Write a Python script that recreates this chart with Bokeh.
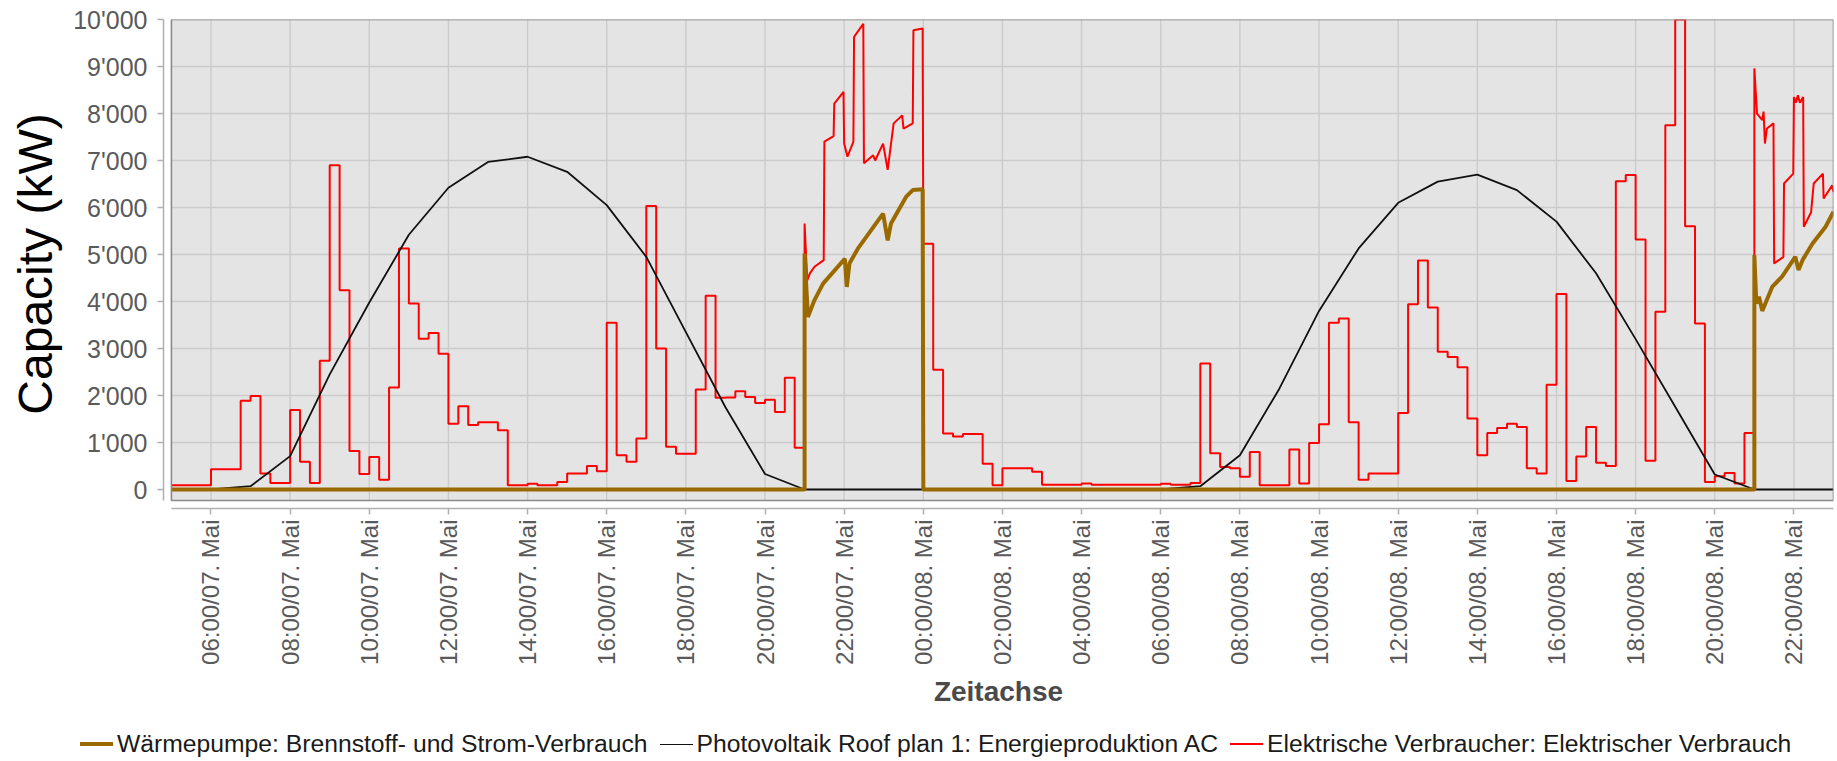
import math
import pandas as pd
from bokeh.plotting import figure
from bokeh.layouts import column
from bokeh.models import Range1d, FixedTicker, Div
from bokeh.embed import file_html
from bokeh.resources import INLINE

START = pd.Timestamp("2021-05-07 05:00")
END = pd.Timestamp("2021-05-08 23:00")
HP1_START = pd.Timestamp("2021-05-07 21:00")
DAY8 = pd.Timestamp("2021-05-08 00:00")
HP2_START = pd.Timestamp("2021-05-08 21:00")
Q = pd.Timedelta(minutes=15)

# ---- Elektrische Verbraucher (kW), 15-min values ----
red_day7 = [  # 05:00 .. 21:00, 07. Mai
    90, 90, 90, 90,
    430, 430, 430, 1890,
    1990, 340, 140, 140,
    1690, 590, 140, 2740,
    6900, 4240, 820, 330,
    690, 210, 2170, 5130,
    3960, 3210, 3330, 2890,
    1400, 1770, 1370, 1430,
    1430, 1260, 90, 90,
    120, 90, 90, 160,
    340, 340, 500, 390,
    3550, 730, 590, 1085,
    6030, 3000, 910, 760,
    760, 2130, 4120, 1950,
    1960, 2090, 1970, 1840,
    1910, 1650, 2380, 890,
]
# 21:00 .. 00:00 (minutes after 21:00, kW)
red_hp1_min = [0, 4, 8, 15, 29, 30, 44, 45, 59, 60, 65, 74, 75, 89, 90, 104, 107,
               119, 126, 135, 148, 150, 164, 165, 179]
red_hp1_kw = [5660, 4450, 4600, 4740, 4880, 7400, 7520, 8210, 8460, 7360, 7080, 7400,
              9630, 9910, 6940, 7110, 7000, 7360, 6800, 7790, 7960, 7680, 7790, 9770, 9810]
red_day8 = [  # 00:00 .. 21:00, 08. Mai
    5230, 2550, 1190, 1130,
    1180, 1180, 550, 90,
    450, 450, 450, 380,
    100, 100, 100, 100,
    130, 100, 100, 100,
    100, 100, 100, 100,
    120, 100, 100, 140,
    2680, 770, 480, 450,
    270, 800, 90, 90,
    90, 850, 130, 990,
    1390, 3550, 3640, 1430,
    210, 340, 340, 340,
    1630, 3940, 4870, 3870,
    2930, 2820, 2600, 1510,
    730, 1200, 1310, 1400,
    1330, 450, 340, 2230,
    4160, 180, 700, 1330,
    570, 500, 6560, 6690,
    5320, 610, 3780, 7750,
    10000, 5600, 3530, 160,
    280, 350, 130, 1200,
]
# 21:00 .. 23:00, 08. Mai
red_hp2_min = [0, 4, 12, 14, 16, 19, 29, 30, 44, 45, 59, 60, 63, 66, 69, 74, 75,
               86, 90, 104, 105, 118, 120]
red_hp2_kw = [8960, 8000, 7860, 8040, 7360, 7680, 7790, 4810, 4950, 6510, 6720, 8350,
              8230, 8390, 8230, 8350, 5590, 5900, 6510, 6720, 6190, 6470, 6330]

# ---- Wärmepumpe (kW) ----
hp1_min = [0, 5, 15, 28, 61, 64, 68, 81, 119, 126, 131, 154, 164, 179]
hp1_kw = [5020, 3670, 4030, 4380, 4910, 4310, 4810, 5130, 5870, 5300, 5660, 6230, 6370, 6390]
hp2_min = [0, 3, 7, 12, 27, 42, 62, 67, 73, 88, 108, 120]
hp2_kw = [4990, 3960, 4100, 3800, 4310, 4530, 4950, 4670, 4880, 5230, 5590, 5910]

# ---- Photovoltaik (kW), hourly from 05:00 07. Mai to 23:00 08. Mai ----
pv_kw = [0, 0, 70, 710, 2450, 3980, 5420, 6420, 6970, 7080, 6760, 6050, 4950, 3350,
         1750, 330, 0, 0, 0, 0, 0, 0, 0, 0, 0, 0, 70, 730, 2150, 3800, 5130, 6100,
         6550, 6700, 6370, 5700, 4600, 3200, 1760, 320, 0, 0, 0]

y_ticks = [0, 1000, 2000, 3000, 4000, 5000, 6000, 7000, 8000, 9000, 10000]
y_tick_labels = ["0", "1'000", "2'000", "3'000", "4'000", "5'000", "6'000", "7'000",
                 "8'000", "9'000", "10'000"]
x_tick_times = [pd.Timestamp("2021-05-07 06:00") + pd.Timedelta(hours=2 * i) for i in range(21)]
x_tick_labels = [t.strftime("%H:%M/%d. Mai") for t in x_tick_times]

labels = ["Wärmepumpe: Brennstoff- und Strom-Verbrauch",
          "Photovoltaik Roof plan 1: Energieproduktion AC",
          "Elektrische Verbraucher: Elektrischer Verbrauch"]
colors = ["#9a6a00", "#111111", "#ff0000"]
widths = [4, 1.8, 2]

# ---- build series ----
red_t, red_v = [], []
for i, v in enumerate(red_day7):
    t0 = START + i * Q
    red_t += [t0, t0 + Q]
    red_v += [v, v]
for m, v in zip(red_hp1_min, red_hp1_kw):
    red_t.append(HP1_START + pd.Timedelta(minutes=m))
    red_v.append(v)
for i, v in enumerate(red_day8):
    t0 = DAY8 + i * Q
    red_t += [t0, t0 + Q]
    red_v += [v, v]
for m, v in zip(red_hp2_min, red_hp2_kw):
    red_t.append(HP2_START + pd.Timedelta(minutes=m))
    red_v.append(v)

hp_t = [START, HP1_START]
hp_v = [0, 0]
for m, v in zip(hp1_min, hp1_kw):
    hp_t.append(HP1_START + pd.Timedelta(minutes=m))
    hp_v.append(v)
hp_t += [DAY8, HP2_START]
hp_v += [0, 0]
for m, v in zip(hp2_min, hp2_kw):
    hp_t.append(HP2_START + pd.Timedelta(minutes=m))
    hp_v.append(v)

pv_t = [START + pd.Timedelta(hours=h) for h in range(len(pv_kw))]

FONT = "Liberation Sans"
BOX_BOTTOM = -234
p = figure(width=1837, height=725, x_axis_type="datetime",
           x_range=Range1d(START - pd.Timedelta(minutes=12), END),
           y_range=Range1d(-404, 10000),
           output_backend="svg", toolbar_location=None,
           min_border_left=163, min_border_right=4, min_border_top=19,
           min_border_bottom=217)
p.outline_line_color = None
p.xgrid.visible = False
p.ygrid.visible = False
p.background_fill_color = "white"
p.border_fill_color = "white"

# plot area background
p.quad(left=[START], right=[END], bottom=[BOX_BOTTOM], top=[10000],
       fill_color="#e4e4e4", line_color=None)
# grid lines
p.segment(x0=x_tick_times, x1=x_tick_times, y0=[BOX_BOTTOM] * len(x_tick_times),
          y1=[10000] * len(x_tick_times), line_color="#cbcbcb", line_width=1.4)
p.segment(x0=[START] * len(y_ticks), x1=[END] * len(y_ticks), y0=y_ticks, y1=y_ticks,
          line_color="#cbcbcb", line_width=1.4)

p.line(red_t, red_v, line_color=colors[2], line_width=widths[2])
p.line(pv_t, pv_kw, line_color=colors[1], line_width=widths[1])
p.line(hp_t, hp_v, line_color=colors[0], line_width=widths[0])

p.quad(left=[START], right=[END], bottom=[BOX_BOTTOM], top=[10000],
       fill_color=None, line_color="#8a8a8a", line_width=1.6)

# axes
AX = "#b0b0b0"
xa = p.xaxis[0]
xa.ticker = FixedTicker(ticks=[(t - pd.Timestamp("1970-01-01")).total_seconds() * 1000
                               for t in x_tick_times])
xa.major_label_overrides = {(t - pd.Timestamp("1970-01-01")).total_seconds() * 1000: lab
                            for t, lab in zip(x_tick_times, x_tick_labels)}
xa.major_label_orientation = math.pi / 2
xa.bounds = (START, END)
xa.axis_label = "Zeitachse"
ya = p.yaxis[0]
ya.ticker = FixedTicker(ticks=y_ticks)
ya.major_label_overrides = dict(zip(y_ticks, y_tick_labels))
ya.bounds = (BOX_BOTTOM, 10000)
ya.axis_label = "Capacity (kW)"

for ax in (xa, ya):
    ax.axis_line_color = AX
    ax.axis_line_width = 1.5
    ax.major_tick_line_color = AX
    ax.major_tick_line_width = 1.5
    ax.major_tick_out = 6
    ax.major_tick_in = 0
    ax.minor_tick_line_color = None
    ax.major_label_text_font = FONT
    ax.major_label_text_color = "#5a5a5a"
    ax.axis_label_text_font = FONT

xa.major_label_text_font_size = "24px"
xa.major_label_standoff = 5
xa.axis_label_standoff = 8
xa.axis_label_text_font_size = "28px"
xa.axis_label_text_font_style = "bold"
xa.axis_label_text_color = "#4a4a4a"

ya.major_label_text_font_size = "25px"
ya.major_label_standoff = 10
ya.axis_label_standoff = 8
ya.axis_label_text_font_size = "48px"
ya.axis_label_text_font_style = "normal"
ya.axis_label_text_color = "#000000"

# ---- legend strip below the chart ----
parts = []
for i, (lab, col, w) in enumerate(zip(labels, colors, widths)):
    lead = 0 if i == 0 else 12
    parts.append(
        f'<span style="display:inline-block;width:33px;height:0;'
        f'border-top:{w}px solid {col};margin-left:{lead}px;margin-right:4px;'
        f'vertical-align:middle;"></span>'
        f'<span style="vertical-align:middle;">{lab}</span>')
legend_html = (
    '<div style="box-sizing:border-box;height:36px;padding-top:3px;padding-left:80px;'
    "font-family:'Liberation Sans',Arial,sans-serif;font-size:24.7px;color:#1a1a1a;"
    'white-space:nowrap;line-height:30px;">' + "".join(parts) + '</div>')
legend_div = Div(text=legend_html, width=1837, height=36, margin=(0, 0, 0, 0))

layout = column(p, legend_div, spacing=0)
open("out.html", "w").write(file_html(layout, INLINE))
